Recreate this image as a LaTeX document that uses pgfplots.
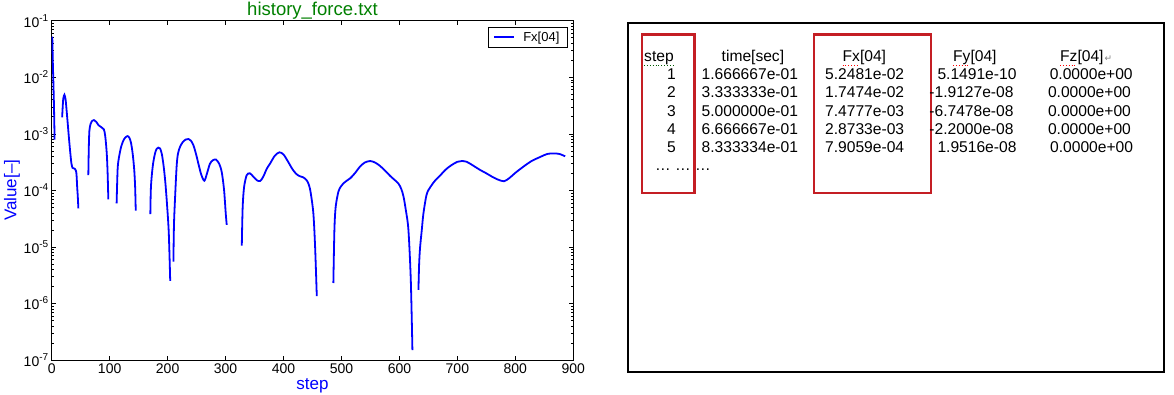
\documentclass[border=0pt]{standalone}
\usepackage{pgfplots}
\pgfplotsset{compat=1.18}
\usepackage{pgfplotstable}
\usepackage{fontspec}
\setmainfont{Liberation Sans}
\newfontfamily\dejavu{DejaVu Sans}
\definecolor{mplblue}{RGB}{0,0,255}
\definecolor{mplgreen}{RGB}{0,128,0}
\definecolor{boxred}{RGB}{196,30,36}
\newcommand{\tl}[1]{10\raisebox{6bp}{\fontsize{10bp}{10bp}\selectfont#1}}

\pgfplotstableread{
step value
1 5.2481e-2
2 1.7474e-2
3 7.4777e-3
4 2.8733e-3
5 7.9059e-4
nan nan
18 1.96e-3
19 3.0e-3
20 4.2e-3
22 4.9e-3
24 4.0e-3
26 2.4e-3
28 1.38e-3
30 7.9e-4
32 4.7e-4
34 3.0e-4
36 2.5e-4
38 2.45e-4
40 2.4e-4
42 2.2e-4
43 1.78e-4
44 1.12e-4
45 7.9e-5
46 4.8e-5
nan nan
63.2 1.86e-4
64 5.6e-4
65 1.12e-3
67 1.48e-3
70 1.70e-3
73 1.75e-3
77 1.62e-3
80.5 1.43e-3
86 1.30e-3
90 1.20e-3
92.5 8.9e-4
95 4.5e-4
96.5 2.0e-4
97.7 6.9e-5
nan nan
112 5.9e-5
113 1.41e-4
114 2.63e-4
116 3.8e-4
120 6.0e-4
125 8.1e-4
130.5 9.1e-4
134 8.5e-4
137 6.8e-4
140 4.2e-4
142.5 2.24e-4
144 1.12e-4
145 4.4e-5
nan nan
170.2 3.8e-5
171 1.0e-4
172.5 1.74e-4
175 3.0e-4
178.3 4.5e-4
181 5.4e-4
184 5.7e-4
187 5.5e-4
190 4.4e-4
193 2.75e-4
196 1.41e-4
199 5.6e-5
202 1.78e-5
204.5 2.5e-6
nan nan
210 5.5e-6
211 2.5e-5
213 7.9e-5
215.7 2.8e-4
218 4.5e-4
221.5 5.9e-4
226 7.1e-4
231 7.9e-4
236 8.1e-4
240 7.6e-4
244.5 6.3e-4
249 4.4e-4
253 3.0e-4
258 1.9e-4
263.4 1.48e-4
268 2.0e-4
273 2.95e-4
278 3.4e-4
283.6 3.5e-4
289 2.95e-4
293.4 2.1e-4
297.4 1.02e-4
300.3 3.9e-5
302 2.45e-5
nan nan
328 1.05e-5
329.5 5.0e-5
332 1.15e-4
336.5 1.86e-4
342 2.0e-4
348 1.74e-4
354 1.51e-4
359.5 1.46e-4
365 1.74e-4
371 2.4e-4
377 3.0e-4
385 4.1e-4
393 4.7e-4
400 4.3e-4
408 3.2e-4
415 2.4e-4
422 1.95e-4
428 1.78e-4
434 1.7e-4
440 1.51e-4
444 1.23e-4
447 8.9e-5
451.5 3.9e-5
454.5 1.0e-5
457.4 1.35e-6
nan nan
486 2.3e-6
487.8 2.0e-5
490 5.1e-5
494.7 9.5e-5
499 1.17e-4
503.3 1.33e-4
509 1.48e-4
515 1.63e-4
523 2.0e-4
532 2.63e-4
540 3.1e-4
549.4 3.3e-4
558 3.1e-4
566.6 2.7e-4
575 2.24e-4
584 1.8e-4
591 1.55e-4
598 1.33e-4
603 1.07e-4
607 7.8e-5
611 4.5e-5
615.5 2.0e-5
619.6 2.6e-6
622.4 1.5e-7
nan nan
632.8 1.74e-6
634 5.0e-6
635.7 1.0e-5
638.6 2.0e-5
641.4 3.9e-5
647 8.5e-5
654 1.17e-4
662 1.51e-4
670 1.82e-4
680 2.34e-4
690 2.8e-4
700 3.2e-4
707.6 3.3e-4
716 3.2e-4
727 2.75e-4
739 2.3e-4
750 2.0e-4
760 1.74e-4
770 1.55e-4
780.6 1.45e-4
790 1.66e-4
800 2.04e-4
814 2.63e-4
828 3.3e-4
843 3.9e-4
855 4.4e-4
865.7 4.5e-4
876 4.4e-4
886 4.0e-4
}\forcedata

\begin{document}
\begin{tikzpicture}
\path[use as bounding box] (0,0) rectangle (1174bp,395bp);
\begin{axis}[
  at={(51.7bp,35bp)}, anchor=south west,
  scale only axis, width=521.6bp, height=339.3bp,
  xmin=0, xmax=900, ymode=log, ymin=1e-7, ymax=1e-1,
  xtick={0,100,...,900},
  ytick={1e-7,1e-6,1e-5,1e-4,1e-3,1e-2,1e-1},
  yticklabels={\tl{-7},\tl{-6},\tl{-5},\tl{-4},\tl{-3},\tl{-2},\tl{-1}},
  minor ytick={2e-7,3e-7,4e-7,5e-7,6e-7,7e-7,8e-7,9e-7,
    2e-6,3e-6,4e-6,5e-6,6e-6,7e-6,8e-6,9e-6,
    2e-5,3e-5,4e-5,5e-5,6e-5,7e-5,8e-5,9e-5,
    2e-4,3e-4,4e-4,5e-4,6e-4,7e-4,8e-4,9e-4,
    2e-3,3e-3,4e-3,5e-3,6e-3,7e-3,8e-3,9e-3,
    2e-2,3e-2,4e-2,5e-2,6e-2,7e-2,8e-2,9e-2},
  /pgf/number format/assume math mode=true,
  xtick pos=both, ytick pos=both,
  xticklabel pos=lower, yticklabel pos=left,
  tick align=inside,
  major tick length=4.5bp, minor tick length=2.5bp,
  tick style={black, line width=0.6bp},
  axis line style={black, line width=0.8bp},
  tick label style={font=\fontsize{14bp}{14bp}\selectfont},
  xlabel={step},
  xlabel style={at={(0.5,-0.0869)}, anchor=base, text=mplblue, font=\fontsize{17bp}{17bp}\selectfont},
  ylabel={Value[--]},
  ylabel style={at={(-0.0675,0.5)}, anchor=base, text=mplblue, font=\fontsize{17bp}{17bp}\selectfont},
  legend style={at={(1,1)}, anchor=north east, xshift=-6bp, yshift=-6.3bp,
    draw=black, line width=0.8bp, font=\fontsize{13bp}{13bp}\selectfont,
    inner xsep=5.5bp, inner ysep=2.5bp, cells={anchor=west},
    /tikz/every odd column/.append style={column sep=6bp}},
  legend image code/.code={\draw[#1, line width=1.8bp] (0bp,0bp) -- (20bp,0bp);},
]
\addplot[mplblue, line width=1.8bp, smooth, tension=0.5, unbounded coords=jump] table[x=step,y=value] {\forcedata};
\addlegendentry{Fx[04]}
\end{axis}
% title
\node[anchor=base, inner sep=0pt, text=mplgreen, font=\fontsize{18.5bp}{18.5bp}\selectfont] at (312.5bp,379bp) {history\_force.txt};

% right panel: text table
\draw[black, line width=2bp] (628bp,23bp) rectangle (1163.5bp,371.5bp);
\draw[boxred, line width=2.2bp] (642bp,202bp) rectangle (694.5bp,360.5bp);
\draw[boxred, line width=2.2bp] (813.8bp,202bp) rectangle (931bp,360.5bp);

\begin{scope}[every node/.style={inner sep=0pt, font=\fontsize{15.6bp}{15.6bp}\selectfont}]
% header
\node[anchor=base west] at (644bp,333.5bp) {step};
\node[anchor=base west] at (721.5bp,333.5bp) {time[sec]};
\node[anchor=base west] at (842.5bp,333.5bp) {Fx[04]};
\node[anchor=base west] at (953bp,333.5bp) {Fy[04]};
\node[anchor=base west] at (1060bp,333.5bp) {Fz[04]};
\node[anchor=base west, text=gray, font=\dejavu\fontsize{9bp}{9bp}\selectfont] at (1104.5bp,333.5bp) {↵};
% col 1
\node[anchor=base east] at (676bp,315.3bp) {1};
\node[anchor=base east] at (676bp,297.1bp) {2};
\node[anchor=base east] at (676bp,278.9bp) {3};
\node[anchor=base east] at (676bp,260.7bp) {4};
\node[anchor=base east] at (676bp,242.5bp) {5};
% col 2
\node[anchor=base west] at (701.5bp,315.3bp) {1.666667e-01};
\node[anchor=base west] at (701.5bp,297.1bp) {3.333333e-01};
\node[anchor=base west] at (701.5bp,278.9bp) {5.000000e-01};
\node[anchor=base west] at (701.5bp,260.7bp) {6.666667e-01};
\node[anchor=base west] at (701.5bp,242.5bp) {8.333334e-01};
% col 3
\node[anchor=base west] at (825bp,315.3bp) {5.2481e-02};
\node[anchor=base west] at (825bp,297.1bp) {1.7474e-02};
\node[anchor=base west] at (825bp,278.9bp) {7.4777e-03};
\node[anchor=base west] at (825bp,260.7bp) {2.8733e-03};
\node[anchor=base west] at (825bp,242.5bp) {7.9059e-04};
% col 4
\node[anchor=base west] at (937.3bp,315.3bp) {5.1491e-10};
\node[anchor=base west] at (929.2bp,297.1bp) {-1.9127e-08};
\node[anchor=base west] at (929.2bp,278.9bp) {-6.7478e-08};
\node[anchor=base west] at (929.2bp,260.7bp) {-2.2000e-08};
\node[anchor=base west] at (937.3bp,242.5bp) {1.9516e-08};
% col 5
\node[anchor=base west] at (1049.6bp,315.3bp) {0.0000e+00};
\node[anchor=base west] at (1047.8bp,297.1bp) {0.0000e+00};
\node[anchor=base west] at (1047.8bp,278.9bp) {0.0000e+00};
\node[anchor=base west] at (1047.8bp,260.7bp) {0.0000e+00};
\node[anchor=base west] at (1050bp,242.5bp) {0.0000e+00};
% dots
\node[anchor=base west] at (655bp,224bp) {… … …};
\end{scope}
% spell-check underlines
\draw[mplgreen!70!black, line width=0.9bp, dotted] (644bp,329.5bp) -- (673bp,329.5bp);
\draw[red, line width=0.9bp, dotted] (842.5bp,329.5bp) -- (859bp,329.5bp);
\draw[red, line width=0.9bp, dotted] (953bp,329.5bp) -- (970bp,329.5bp);
\draw[red, line width=0.9bp, dotted] (1060bp,329.5bp) -- (1077bp,329.5bp);
\end{tikzpicture}
\end{document}
